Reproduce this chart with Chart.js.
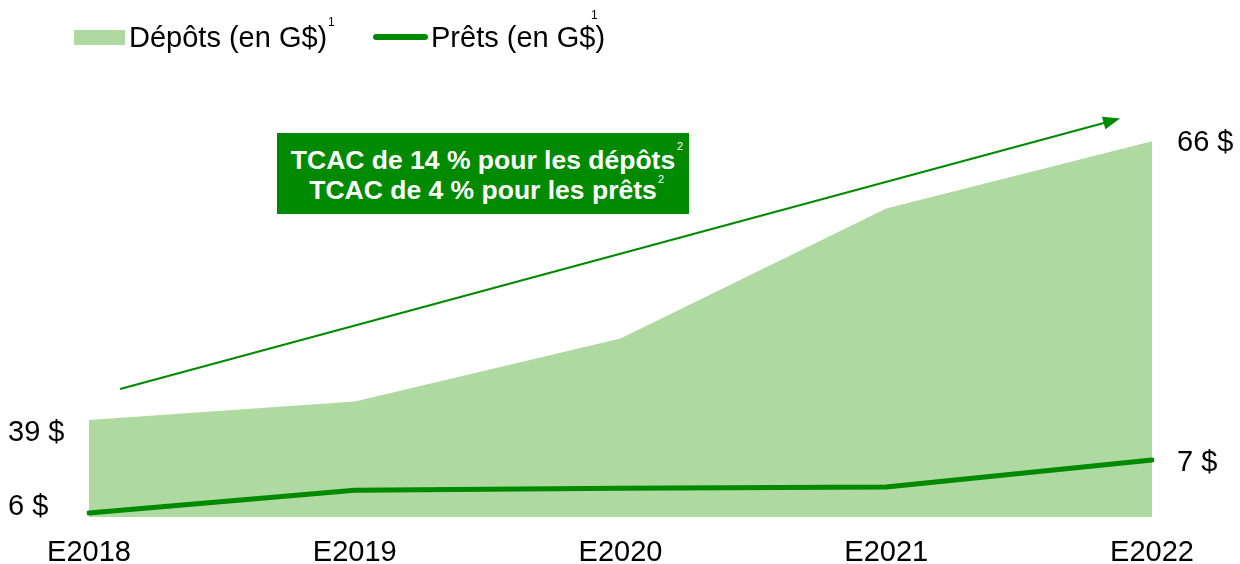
<!DOCTYPE html>
<html>
<head>
<meta charset="utf-8">
<script src="https://cdn.jsdelivr.net/npm/chart.js@4"></script>
<style>
  body { margin: 0; background: #fff; }
  #wrap { position: relative; width: 1240px; height: 564px; font-family: "Liberation Sans", Arial, sans-serif; }
  #wrap canvas { position: absolute; left: 0; top: 0; }
  .lg { position: absolute; font-size: 29px; line-height: 34px; color: #000; white-space: nowrap; }
  .sup1 { position: absolute; font-size: 12px; line-height: 12px; color: #000; }
  #box { position: absolute; left: 277px; top: 133px; width: 412px; height: 81px; background: #008a00;
         color: #fff; font-weight: bold; font-size: 26.5px; line-height: 30px; text-align: center;
         box-sizing: border-box; padding-top: 12px; white-space: nowrap; }
  .sup2 { position: absolute; font-size: 11px; line-height: 12px; color: #fff; }
</style>
</head>
<body>
<div id="wrap">
  <canvas id="chart" width="1240" height="564"></canvas>
  <div style="position:absolute;left:74px;top:30px;width:51px;height:15px;background:#aed9a0"></div>
  <div class="lg" style="left:129px;top:20px">Dépôts (en G$)</div>
  <div class="sup1" style="left:328px;top:16px">1</div>
  <div style="position:absolute;left:373px;top:34px;width:55px;height:6px;border-radius:3px;background:#008a00"></div>
  <div class="lg" style="left:431px;top:20px">Prêts (en G$)</div>
  <div class="sup1" style="left:591px;top:9px">1</div>
  <div id="box">TCAC de 14 % pour les dépôts<br>TCAC de 4 % pour les prêts</div>
  <div class="sup2" style="left:677px;top:140px">2</div>
  <div class="sup2" style="left:658px;top:173px">2</div>
</div>
<script>
var years = ["E2018", "E2019", "E2020", "E2021", "E2022"];
var depots = [39, 40.8, 46.9, 59.5, 66];
var prets = [6, 6.43, 6.47, 6.49, 7];
var depotsLabels = ["39 $", "66 $"];
var pretsLabels = ["6 $", "7 $"];

var green = "#008a00";
var lightGreen = "#aed9a0";

// fleche de tendance (index de categorie, valeur depots)
var arrowFrom = [0.117, 42.0];
var arrowTo = [3.88, 68.2];

var extras = {
  id: "extras",
  afterDatasetsDraw: function(chart) {
    var ctx = chart.ctx;
    var x = chart.scales.x, y = chart.scales.y;
    var dMeta = chart.getDatasetMeta(1).data;
    var pMeta = chart.getDatasetMeta(0).data;
    var last = years.length - 1;

    // fleche
    var x1 = x.getPixelForValue(arrowFrom[0]), y1 = y.getPixelForValue(arrowFrom[1]);
    var x2 = x.getPixelForValue(arrowTo[0]), y2 = y.getPixelForValue(arrowTo[1]);
    var ang = Math.atan2(y2 - y1, x2 - x1);
    ctx.save();
    ctx.strokeStyle = green;
    ctx.fillStyle = green;
    ctx.lineWidth = 2.2;
    ctx.beginPath();
    ctx.moveTo(x1, y1);
    ctx.lineTo(x2 - 12 * Math.cos(ang), y2 - 12 * Math.sin(ang));
    ctx.stroke();
    ctx.beginPath();
    ctx.moveTo(x2, y2);
    ctx.lineTo(x2 - 17 * Math.cos(ang) + 6.5 * Math.sin(ang), y2 - 17 * Math.sin(ang) - 6.5 * Math.cos(ang));
    ctx.lineTo(x2 - 17 * Math.cos(ang) - 6.5 * Math.sin(ang), y2 - 17 * Math.sin(ang) + 6.5 * Math.cos(ang));
    ctx.closePath();
    ctx.fill();

    // etiquettes de valeurs
    ctx.fillStyle = "#000";
    ctx.font = "29px 'Liberation Sans', Arial, sans-serif";
    ctx.textBaseline = "middle";
    ctx.textAlign = "left";
    ctx.fillText(depotsLabels[0], 8, dMeta[0].y + 13);
    ctx.fillText(pretsLabels[0], 8, pMeta[0].y - 6);
    ctx.fillText(depotsLabels[1], 1177, dMeta[last].y + 2);
    ctx.fillText(pretsLabels[1], 1177, pMeta[last].y + 3);
    ctx.restore();
  }
};

new Chart("chart", {
  type: "line",
  data: {
    labels: years,
    datasets: [{
      label: "Prêts (en G$)",
      data: prets,
      yAxisID: "y2",
      borderColor: green,
      borderWidth: 5,
      borderCapStyle: "round",
      borderJoinStyle: "round",
      pointRadius: 0,
      fill: false,
      tension: 0
    }, {
      label: "Dépôts (en G$)",
      data: depots,
      yAxisID: "y",
      backgroundColor: lightGreen,
      borderWidth: 0,
      pointRadius: 0,
      fill: "start",
      tension: 0
    }]
  },
  options: {
    responsive: false,
    animation: false,
    layout: { padding: { left: 89, right: 88, top: 100, bottom: 0 } },
    plugins: { legend: { display: false }, tooltip: { enabled: false } },
    scales: {
      x: {
        offset: false,
        grid: { display: false, drawTicks: false },
        border: { display: false },
        afterFit: function(s) { s.height = 47; },
        ticks: {
          color: "#000",
          padding: 21,
          maxRotation: 0,
          autoSkip: false,
          font: { family: "'Liberation Sans', Arial, sans-serif", size: 29, lineHeight: 1 }
        }
      },
      y: { display: false, min: 29.6, max: 70 },
      y2: { display: false, min: 5.925, max: 13.8 }
    }
  },
  plugins: [extras]
});
</script>
</body>
</html>
